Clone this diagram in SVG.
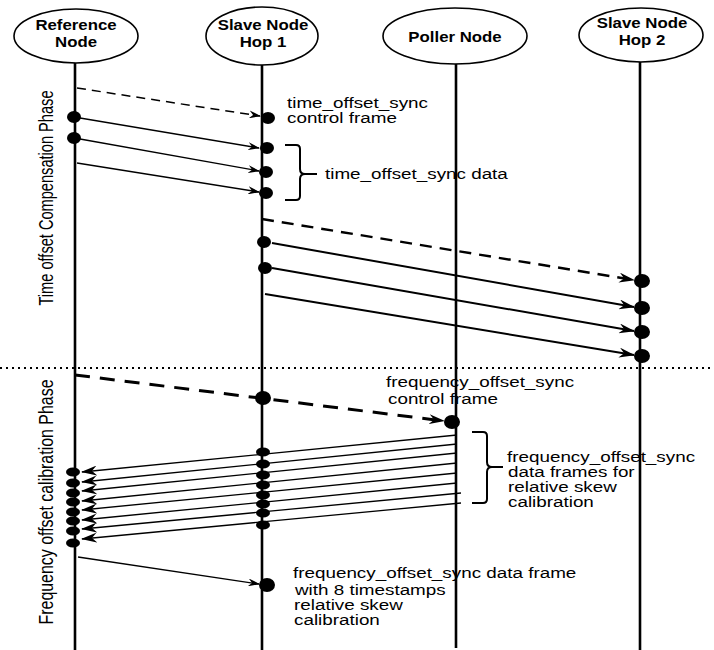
<svg xmlns="http://www.w3.org/2000/svg" width="714" height="650" viewBox="0 0 714 650">
  <style>
    .head { fill: #fff; stroke: #000; stroke-width: 1.6; }
    .hlabel { font-family: "Liberation Sans", Arial, sans-serif; font-weight: bold; font-size: 14px; text-anchor: middle; fill: #000; }
    .life { stroke: #000; stroke-width: 2.6; fill: none; }
    .lbl { font-family: "Liberation Sans", Arial, sans-serif; font-size: 14.5px; fill: #000; }
    .phase { font-family: "Liberation Sans", Arial, sans-serif; font-size: 15px; fill: #000; text-anchor: middle; }
    .msg { stroke: #000; stroke-width: 1.3; fill: none; }
    .msg2 { stroke: #000; stroke-width: 2; fill: none; }
    .dash1 { stroke: #000; stroke-width: 1.5; fill: none; stroke-dasharray: 9 6; }
    .dash2 { stroke: #000; stroke-width: 2.4; fill: none; stroke-dasharray: 12 8; }
    .dash3 { stroke: #000; stroke-width: 3; fill: none; stroke-dasharray: 15 10; }
    .brace { stroke: #000; stroke-width: 2; fill: none; }
    .sep { stroke: #000; stroke-width: 2; stroke-dasharray: 2 4; }
    .dot { fill: #000; }
  </style>
  <defs>
    <marker id="arr" viewBox="0 0 12 8" refX="11" refY="4" markerWidth="12" markerHeight="8" markerUnits="userSpaceOnUse" orient="auto">
      <path d="M0,0 L12,4 L0,8 L4,4 z" fill="#000"/>
    </marker>
    <marker id="arrL" viewBox="0 0 16 10" refX="15" refY="5" markerWidth="16" markerHeight="10" markerUnits="userSpaceOnUse" orient="auto">
      <path d="M0,0 L16,5 L0,10 L5,5 z" fill="#000"/>
    </marker>
  </defs>

  <!-- lifeline heads -->
  <g id="reference-node">
    <ellipse class="head" cx="76" cy="36" rx="62" ry="27"/>
    <text class="hlabel" transform="translate(76 30) scale(1.2 1)">Reference</text>
    <text class="hlabel" transform="translate(76 47) scale(1.2 1)">Node</text>
    <line class="life" x1="75" y1="63" x2="75" y2="650"/>
  </g>
  <g id="slave-node-hop1">
    <ellipse class="head" cx="262" cy="36" rx="56" ry="29"/>
    <text class="hlabel" transform="translate(263 30) scale(1.2 1)">Slave Node</text>
    <text class="hlabel" transform="translate(263 47) scale(1.2 1)">Hop 1</text>
    <line class="life" x1="262" y1="65" x2="262" y2="650"/>
  </g>
  <g id="poller-node">
    <ellipse class="head" cx="455" cy="36" rx="72" ry="28"/>
    <text class="hlabel" transform="translate(455 42) scale(1.2 1)">Poller Node</text>
    <line class="life" x1="456" y1="64" x2="456" y2="648"/>
  </g>
  <g id="slave-node-hop2">
    <ellipse class="head" cx="641" cy="35" rx="62" ry="27"/>
    <text class="hlabel" transform="translate(642 28) scale(1.2 1)">Slave Node</text>
    <text class="hlabel" transform="translate(642 45) scale(1.2 1)">Hop 2</text>
    <line class="life" x1="640" y1="62" x2="640" y2="650"/>
  </g>

  <!-- phase labels and separator -->
  <g id="phases">
    <text class="phase" textLength="215" lengthAdjust="spacingAndGlyphs" transform="translate(53 198) scale(1.3 1) rotate(-90)">Time offset Compensation Phase</text>
    <text class="phase" textLength="245" lengthAdjust="spacingAndGlyphs" transform="translate(53 502) scale(1.3 1) rotate(-90)">Frequency offset calibration Phase</text>
    <line class="sep" x1="0" y1="368" x2="714" y2="368"/>
  </g>

  <!-- messages -->
  <g id="connectors">
    <!-- time offset: reference to hop 1 -->
    <line class="dash1" x1="77" y1="88" x2="260" y2="116" marker-end="url(#arr)"/>
    <line class="msg" x1="80" y1="118" x2="259" y2="148" marker-end="url(#arr)"/>
    <line class="msg" x1="80" y1="139" x2="259" y2="171" marker-end="url(#arr)"/>
    <line class="msg" x1="77" y1="163" x2="259" y2="192" marker-end="url(#arr)"/>
    <!-- time offset: hop 1 to hop 2 -->
    <line class="dash2" x1="262" y1="219" x2="634" y2="280" marker-end="url(#arrL)"/>
    <line class="msg2" x1="272" y1="243" x2="634" y2="307" marker-end="url(#arrL)"/>
    <line class="msg2" x1="272" y1="268" x2="634" y2="331" marker-end="url(#arrL)"/>
    <line class="msg2" x1="265" y1="294" x2="634" y2="355" marker-end="url(#arrL)"/>
    <!-- frequency offset: control frame to poller -->
    <line class="dash3" x1="75" y1="375" x2="444" y2="421" marker-end="url(#arrL)"/>
    <!-- frequency offset: poller data frames back to reference -->
    <line class="msg" x1="457" y1="435" x2="82" y2="472" marker-end="url(#arrL)"/>
    <line class="msg" x1="457" y1="444" x2="82" y2="482" marker-end="url(#arrL)"/>
    <line class="msg" x1="457" y1="453" x2="82" y2="491" marker-end="url(#arrL)"/>
    <line class="msg" x1="457" y1="463" x2="82" y2="501" marker-end="url(#arrL)"/>
    <line class="msg" x1="457" y1="473" x2="82" y2="510" marker-end="url(#arrL)"/>
    <line class="msg" x1="457" y1="483" x2="82" y2="520" marker-end="url(#arrL)"/>
    <line class="msg" x1="461" y1="493" x2="82" y2="529" marker-end="url(#arrL)"/>
    <line class="msg" x1="461" y1="503" x2="82" y2="539" marker-end="url(#arrL)"/>
    <!-- frequency offset: timestamp report -->
    <line class="msg" x1="78" y1="557" x2="259" y2="584" marker-end="url(#arr)"/>
  </g>

  <!-- event dots -->
  <g id="events">
    <ellipse class="dot" cx="74" cy="117" rx="7" ry="6"/>
    <ellipse class="dot" cx="74" cy="138" rx="7" ry="6"/>
    <ellipse class="dot" cx="268" cy="118" rx="7" ry="6"/>
    <ellipse class="dot" cx="267" cy="148" rx="7" ry="6"/>
    <ellipse class="dot" cx="266" cy="172" rx="7" ry="6"/>
    <ellipse class="dot" cx="266" cy="193" rx="7" ry="6"/>

    <ellipse class="dot" cx="264" cy="242" rx="7" ry="6"/>
    <ellipse class="dot" cx="265" cy="268" rx="7" ry="6"/>
    <ellipse class="dot" cx="642" cy="281" rx="8" ry="7"/>
    <ellipse class="dot" cx="642" cy="308" rx="8" ry="7"/>
    <ellipse class="dot" cx="642" cy="332" rx="8" ry="7"/>
    <ellipse class="dot" cx="642" cy="356" rx="8" ry="7"/>

    <ellipse class="dot" cx="263" cy="398" rx="8" ry="7"/>
    <ellipse class="dot" cx="452" cy="422" rx="8" ry="7"/>

    <ellipse class="dot" cx="73" cy="472" rx="7" ry="4.5"/>
    <ellipse class="dot" cx="73" cy="483" rx="7" ry="4.5"/>
    <ellipse class="dot" cx="73" cy="493" rx="7" ry="4.5"/>
    <ellipse class="dot" cx="73" cy="502" rx="7" ry="4.5"/>
    <ellipse class="dot" cx="73" cy="512" rx="7" ry="4.5"/>
    <ellipse class="dot" cx="73" cy="521" rx="7" ry="4.5"/>
    <ellipse class="dot" cx="73" cy="531" rx="7" ry="4.5"/>
    <ellipse class="dot" cx="73" cy="543" rx="7" ry="4.5"/>

    <ellipse class="dot" cx="263" cy="452" rx="7" ry="4.5"/>
    <ellipse class="dot" cx="263" cy="464" rx="7" ry="4.5"/>
    <ellipse class="dot" cx="263" cy="475" rx="7" ry="4.5"/>
    <ellipse class="dot" cx="263" cy="485" rx="7" ry="4.5"/>
    <ellipse class="dot" cx="263" cy="495" rx="7" ry="4.5"/>
    <ellipse class="dot" cx="263" cy="504" rx="7" ry="4.5"/>
    <ellipse class="dot" cx="263" cy="513" rx="7" ry="4.5"/>
    <ellipse class="dot" cx="263" cy="525" rx="7" ry="4.5"/>

    <ellipse class="dot" cx="267" cy="585" rx="8" ry="7"/>
  </g>

  <!-- braces -->
  <g id="braces">
    <path class="brace" d="M285,145 H296 Q300,145 300,149 V169 Q300,174 305,174 H317 M305,174 Q300,174 300,179 V196 Q300,200 296,200 H285"/>
    <path class="brace" d="M472,432 H483 Q487,432 487,436 V462 Q487,467 492,467 H503 M492,467 Q487,467 487,472 V499 Q487,503 483,503 H472"/>
  </g>

  <!-- annotations -->
  <g id="labels">
    <text class="lbl" transform="translate(287 108) scale(1.3 1)">time_offset_sync</text>
    <text class="lbl" transform="translate(287 123) scale(1.3 1)">control frame</text>
    <text class="lbl" transform="translate(325 179) scale(1.3 1)">time_offset_sync data</text>

    <text class="lbl" transform="translate(386 387) scale(1.3 1)">frequency_offset_sync</text>
    <text class="lbl" transform="translate(388 404) scale(1.3 1)">control frame</text>

    <text class="lbl" transform="translate(507 462) scale(1.3 1)">frequency_offset_sync</text>
    <text class="lbl" transform="translate(508 477) scale(1.3 1)">data frames for</text>
    <text class="lbl" transform="translate(508 492) scale(1.3 1)">relative skew</text>
    <text class="lbl" transform="translate(508 507) scale(1.3 1)">calibration</text>

    <text class="lbl" transform="translate(293 578) scale(1.3 1)">frequency_offset_sync data frame</text>
    <text class="lbl" transform="translate(295 595) scale(1.3 1)">with 8 timestamps</text>
    <text class="lbl" transform="translate(294 610) scale(1.3 1)">relative skew</text>
    <text class="lbl" transform="translate(294 625) scale(1.3 1)">calibration</text>
  </g>
</svg>
